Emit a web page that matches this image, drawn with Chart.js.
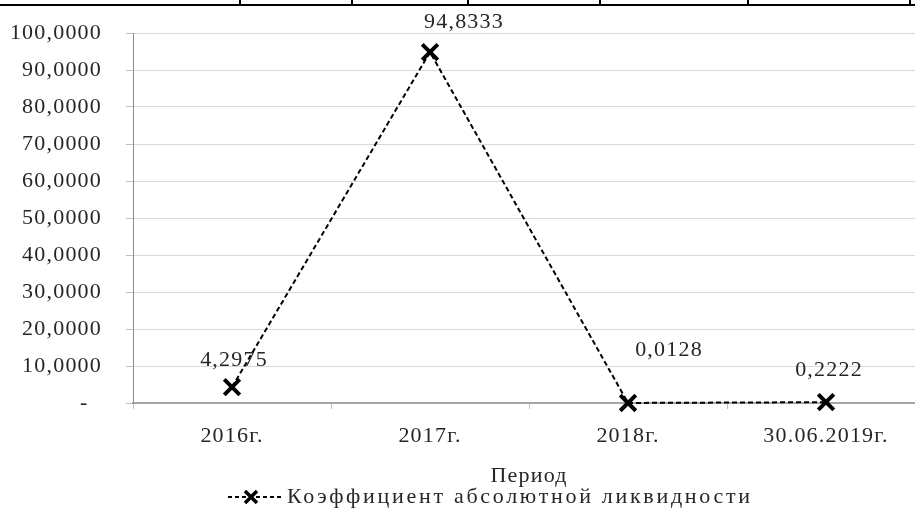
<!DOCTYPE html>
<html><head><meta charset="utf-8">
<script src="https://cdn.jsdelivr.net/npm/chart.js@4"></script>
<style>
html,body{margin:0;padding:0;background:#fff;overflow:hidden;width:915px;height:512px}
#wrap{position:absolute;left:0;top:0;width:940px;height:512px}
</style>
</head><body><div id="wrap"><canvas id="c" width="940" height="512"></canvas></div>
<script>
const categories = ['2016г.', '2017г.', '2018г.', '30.06.2019г.'];
const values = [4.2975, 94.8333, 0.0128, 0.2222];
const valueLabels = ['4,2975', '94,8333', '0,0128', '0,2222'];
const yTicks = [0, 10, 20, 30, 40, 50, 60, 70, 80, 90, 100];
const seriesName = 'Коэффициент абсолютной ликвидности';
const axisTitle = 'Период';

const FONT = '"Liberation Serif", "Times New Roman", serif';
const TXT = '#262626';
const SPACING = '1.2px';
const labelOffsets = [[2, -27], [34, -30], [41, -53], [3, -32]];

function fmt(v) { return v === 0 ? '-  ' : v.toFixed(4).replace('.', ','); }

const deco = {
  id: 'deco',
  afterInit(chart) { chart.ctx.letterSpacing = SPACING; },
  beforeUpdate(chart) { chart.ctx.letterSpacing = SPACING; },
  beforeDraw(chart) {
    const ctx = chart.ctx;
    ctx.letterSpacing = SPACING;
    ctx.save();
    ctx.strokeStyle = '#000';
    ctx.lineWidth = 2;
    ctx.beginPath();
    ctx.moveTo(0, 5); ctx.lineTo(940, 5);
    [240, 352, 468, 600, 748, 910].forEach(x => { ctx.moveTo(x, 0); ctx.lineTo(x, 5); });
    ctx.stroke();
    ctx.restore();
  },
  afterDatasetsDraw(chart) {
    const ctx = chart.ctx;
    const meta = chart.getDatasetMeta(0);
    ctx.save();
    ctx.font = '22px ' + FONT;
    ctx.fillStyle = TXT;
    ctx.textAlign = 'center';
    ctx.textBaseline = 'middle';
    meta.data.forEach((pt, i) => {
      const o = labelOffsets[i];
      ctx.fillText(valueLabels[i], pt.x + o[0], pt.y + o[1]);
    });
    // legend
    const ly = 497;
    ctx.strokeStyle = '#000';
    ctx.lineWidth = 2;
    ctx.setLineDash([4, 3]);
    ctx.beginPath(); ctx.moveTo(228, ly); ctx.lineTo(282, ly); ctx.stroke();
    ctx.setLineDash([]);
    ctx.lineWidth = 3.5;
    const cx = 251, r = 6;
    ctx.beginPath();
    ctx.moveTo(cx - r, ly - r); ctx.lineTo(cx + r, ly + r);
    ctx.moveTo(cx - r, ly + r); ctx.lineTo(cx + r, ly - r);
    ctx.stroke();
    ctx.textAlign = 'left';
    ctx.letterSpacing = '2.7px';
    ctx.fillText(seriesName, 287, ly);
    ctx.restore();
  }
};

new Chart(document.getElementById('c'), {
  type: 'line',
  data: {
    labels: categories,
    datasets: [{
      label: seriesName,
      data: values,
      borderColor: '#000',
      borderWidth: 2,
      borderDash: [5, 3],
      pointStyle: 'crossRot',
      pointRadius: 11,
      pointBorderWidth: 4,
      pointBorderColor: '#000',
      pointBackgroundColor: '#000',
      tension: 0,
      clip: false
    }]
  },
  options: {
    responsive: false,
    animation: false,
    devicePixelRatio: 1,
    layout: { padding: { top: 33, left: 0, right: 3, bottom: 0 } },
    plugins: { legend: { display: false }, tooltip: { enabled: false } },
    scales: {
      x: {
        type: 'category',
        offset: true,
        grid: { display: true, drawOnChartArea: false, drawTicks: true, tickLength: 6, offset: true, color: '#bfbfbf' },
        border: { display: true, color: '#a6a6a6', width: 2 },
        ticks: { color: TXT, font: { family: FONT, size: 22 }, padding: 14, maxRotation: 0, autoSkip: false },
        title: { display: true, text: axisTitle, color: TXT, font: { family: FONT, size: 22 }, padding: { top: 0, bottom: 23 } },
        afterFit(s) { s.height = 109; }
      },
      y: {
        min: 0, max: 100,
        afterBuildTicks(s) { s.ticks = yTicks.map(v => ({ value: v })); },
        grid: { color: '#d9d9d9', lineWidth: 1, drawTicks: true, tickLength: 7, tickColor: '#bfbfbf' },
        border: { display: true, color: '#8c8c8c', width: 1 },
        ticks: { color: TXT, font: { family: FONT, size: 22 }, padding: 24, callback: v => fmt(v) },
        afterFit(s) { s.width = 133; s.paddingTop = 0; s.paddingBottom = 0; }
      }
    }
  },
  plugins: [deco]
});
</script>
</body></html>
